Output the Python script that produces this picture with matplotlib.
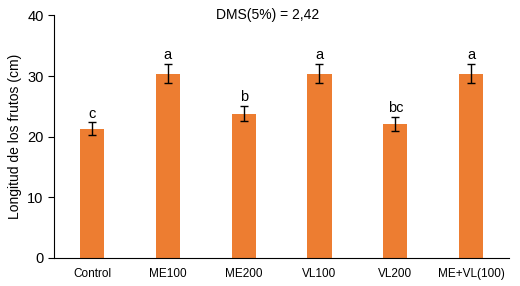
import matplotlib.pyplot as plt
import numpy as np

plt.rcParams['font.family'] = ['Liberation Sans', 'DejaVu Sans']

tratamientos = ["Control", "ME100", "ME200", "VL100", "VL200", "ME+VL(100)"]
longitud = [21.3, 30.4, 23.8, 30.4, 22.1, 30.4]
error = [1.05, 1.6, 1.25, 1.6, 1.2, 1.6]
letras = ["c", "a", "b", "a", "bc", "a"]

fig = plt.figure(figsize=(5.2, 2.86), dpi=100)
ax = fig.add_axes([0.104, 0.098, 0.875, 0.848])

x = np.arange(len(tratamientos))
ax.bar(x, longitud, width=0.32, color="#ED7D31", zorder=2)
ax.errorbar(x, longitud, yerr=error, fmt="none", ecolor="black",
            elinewidth=1, capsize=3, capthick=1, zorder=3)

# letras de significancia
for xi, v, e, l in zip(x, longitud, error, letras):
    ax.text(xi, v + e + 0.3, l, ha="center", va="bottom", fontsize=10.5)

ax.text(0.47, 1.0, "DMS(5%) = 2,42", transform=ax.transAxes,
        ha="center", va="center", fontsize=10)

ax.set_xlim(-0.5, 5.5)
ax.set_ylim(0, 40)
ax.set_yticks([0, 10, 20, 30, 40])
ax.set_xticks(x)
ax.set_xticklabels(tratamientos, fontsize=8.5)
ax.tick_params(axis="y", labelsize=10.5, length=4, direction="out")
ax.tick_params(axis="x", length=0, pad=7)
ax.set_ylabel("Longitud de los frutos (cm)", fontsize=10)

ax.spines["top"].set_visible(False)
ax.spines["right"].set_visible(False)

plt.savefig("out.png", dpi=100)
